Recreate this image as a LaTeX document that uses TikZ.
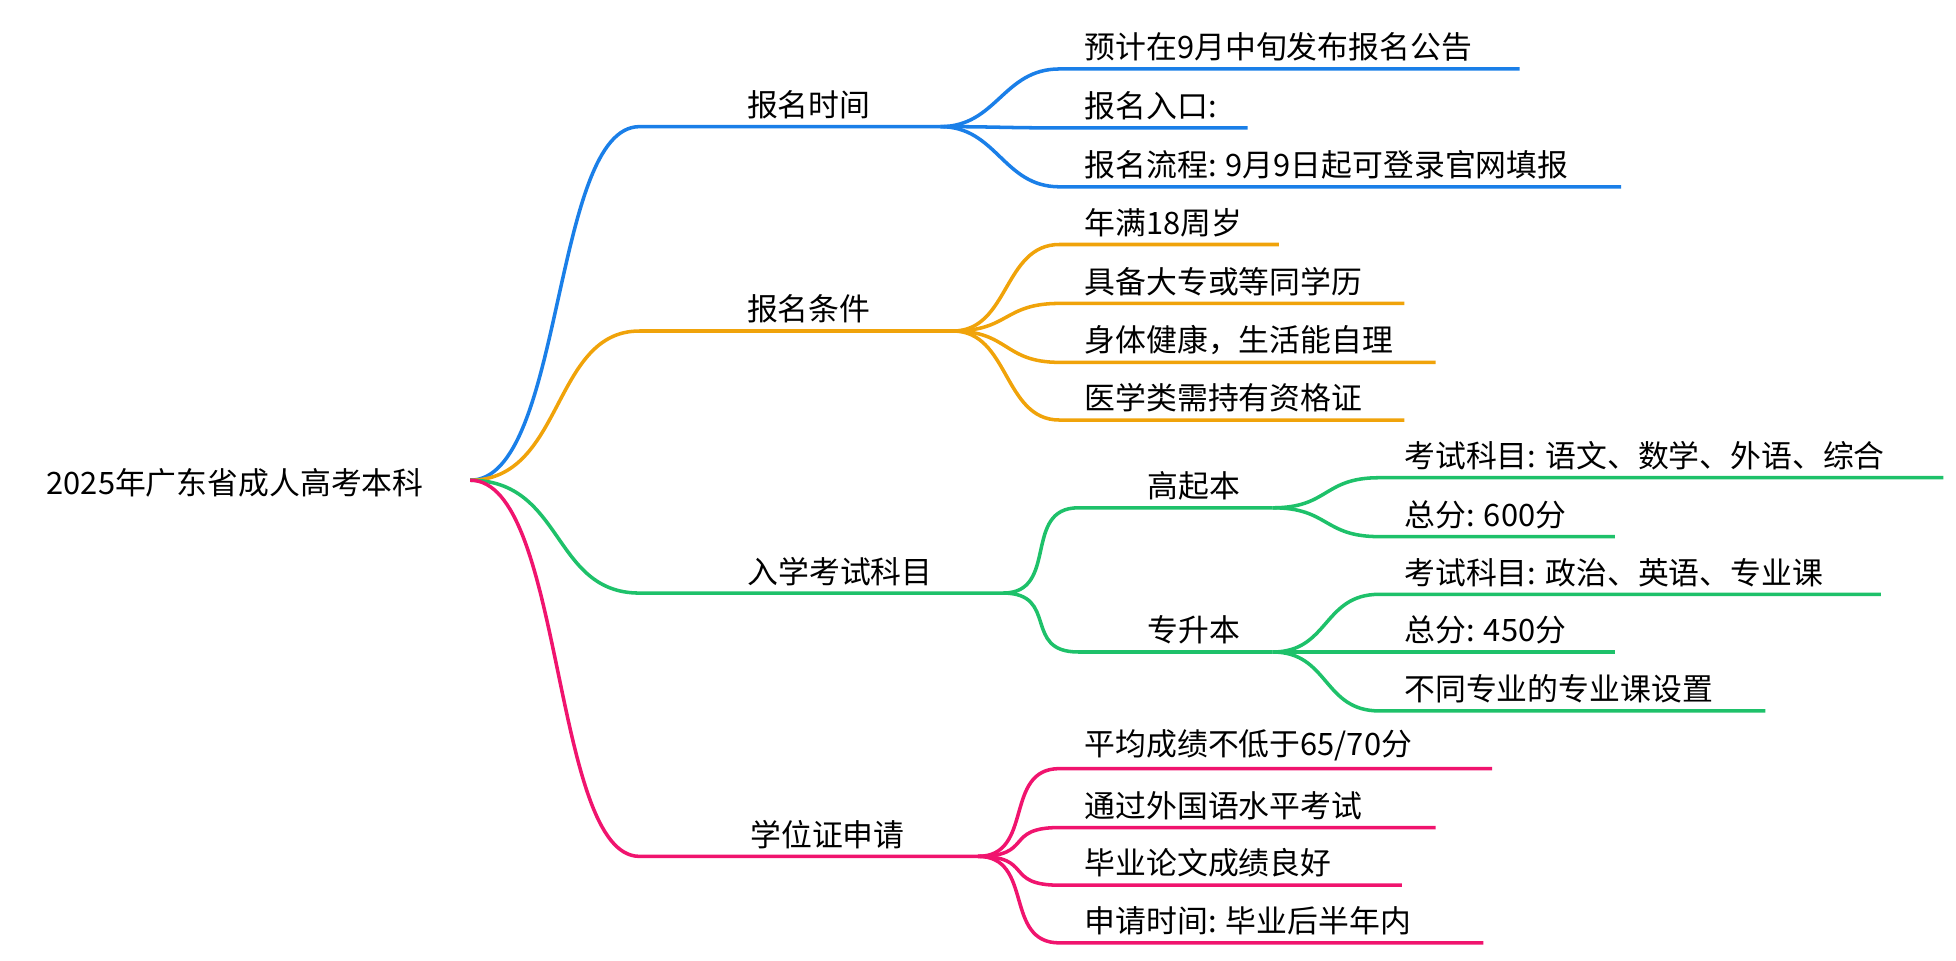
\documentclass[tikz,border=0pt]{standalone}
\usepackage{fontspec}
\setmainfont{Noto Sans CJK SC}
\usetikzlibrary{positioning}
\definecolor{cblue}{HTML}{1A7FE8}
\definecolor{corange}{HTML}{F0A30A}
\definecolor{cgreen}{HTML}{1EC16A}
\definecolor{cpink}{HTML}{F0146E}
\tikzset{
  edge/.style={line width=1.6pt},
  lbl/.style={font=\fontsize{14}{16}\selectfont, inner sep=1pt, anchor=south west},
  toplbl/.style={font=\fontsize{14}{16}\selectfont, inner sep=1pt, anchor=south},
}
% #1 colour, #2 start, #3 x, #4 y, #5 end x, #6 text, #7 name
\newcommand{\leaf}[7]{%
  \draw[edge,#1] (#2) .. controls +(45,0) and +(-45,0) .. (#3,#4) coordinate (#7a) -- (#5,#4) coordinate (#7b);
  \node[lbl] (#7) at (#3+18,#4-4) {#6};
}
\begin{document}
\begin{tikzpicture}[x=0.02cm,y=-0.02cm]
\useasboundingbox (0,0) rectangle (1560,766);
\node[font=\fontsize{14}{16}\selectfont, anchor=west] (root) at (31,385) {2025年广东省成人高考本科};
\coordinate (r) at (375,383);
% first level
\draw[edge,cblue] (r) .. controls (450,383) and (440,101) .. (510,101) coordinate (t1) -- (750,101) coordinate (t1e);
\node[toplbl] (time) at (645,97) {报名时间};
\draw[edge,corange] (r) .. controls (450,383) and (440,264) .. (510,264) coordinate (c1) -- (760,264) coordinate (c1e);
\node[toplbl] (cond) at (645,260) {报名条件};
\draw[edge,cgreen] (r) .. controls (450,383) and (440,473) .. (510,473) coordinate (e1) -- (800,473) coordinate (e1e);
\node[toplbl] (exam) at (670,469) {入学考试科目};
\draw[edge,cpink] (r) .. controls (450,383) and (440,683) .. (510,683) coordinate (d1) -- (780,683) coordinate (d1e);
\node[toplbl] (deg) at (660,679) {学位证申请};
% leaves
\leaf{cblue}{t1e}{845}{55}{1212}{预计在9月中旬发布报名公告}{ta}
\leaf{cblue}{t1e}{845}{102}{995}{报名入口:}{tb}
\leaf{cblue}{t1e}{845}{149}{1293}{报名流程: 9月9日起可登录官网填报}{tc}
\leaf{corange}{c1e}{845}{195}{1020}{年满18周岁}{ca}
\leaf{corange}{c1e}{845}{242}{1120}{具备大专或等同学历}{cb}
\leaf{corange}{c1e}{845}{289}{1145}{身体健康，生活能自理}{cc}
\leaf{corange}{c1e}{845}{335}{1120}{医学类需持有资格证}{cd}
\draw[edge,cgreen] (e1e) .. controls +(45,0) and +(-45,0) .. (860,405) coordinate (ga) -- (1015,405) coordinate (gae);
\node[toplbl] (gqb) at (952,401) {高起本};
\draw[edge,cgreen] (e1e) .. controls +(45,0) and +(-45,0) .. (860,520) coordinate (gb) -- (1015,520) coordinate (gbe);
\node[toplbl] (zsb) at (952,516) {专升本};
\leaf{cgreen}{gae}{1100}{381}{1550}{考试科目: 语文、数学、外语、综合}{ea}
\leaf{cgreen}{gae}{1100}{428}{1288}{总分: 600分}{eb}
\leaf{cgreen}{gbe}{1100}{474}{1500}{考试科目: 政治、英语、专业课}{ec}
\leaf{cgreen}{gbe}{1100}{520}{1288}{总分: 450分}{ed}
\leaf{cgreen}{gbe}{1100}{567}{1408}{不同专业的专业课设置}{ee}
\leaf{cpink}{d1e}{845}{613}{1190}{平均成绩不低于65/70分}{da}
\leaf{cpink}{d1e}{845}{660}{1145}{通过外国语水平考试}{db}
\leaf{cpink}{d1e}{845}{706}{1118}{毕业论文成绩良好}{dc}
\leaf{cpink}{d1e}{845}{752}{1183}{申请时间: 毕业后半年内}{dd}
\end{tikzpicture}
\end{document}
